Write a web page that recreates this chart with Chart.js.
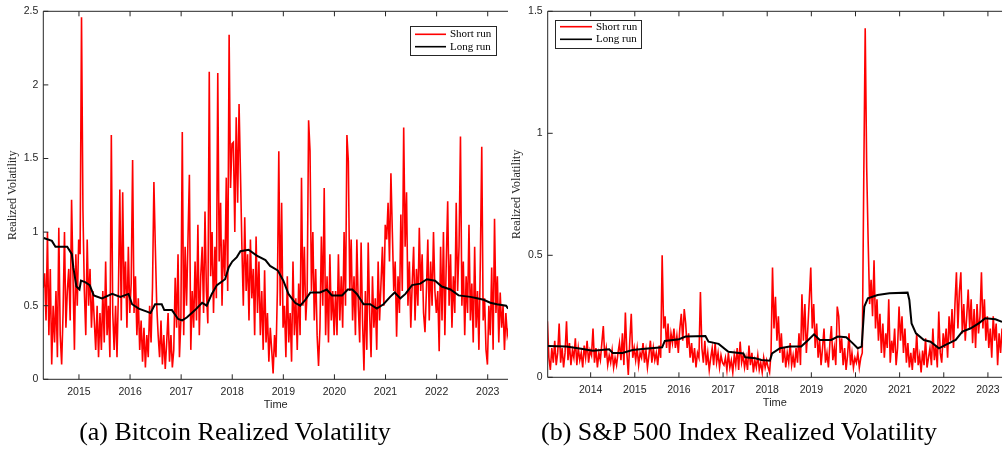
<!DOCTYPE html>
<html><head><meta charset="utf-8">
<script src="https://cdn.jsdelivr.net/npm/chart.js@4.4.0/dist/chart.umd.min.js"></script>
<style>
html,body{margin:0;padding:0;background:#fff;width:1006px;height:450px;overflow:hidden;}
#wrap{position:relative;width:1006px;height:450px;}
canvas{position:absolute;top:0;}
#c1{left:0;} #c2{left:500px;}
.cap{position:absolute;top:419px;font:26px/26px "Liberation Serif","Times New Roman",serif;color:#000;white-space:nowrap;transform:translateX(-50%);}
</style></head>
<body><div id="wrap">
<canvas id="c1" width="520" height="420"></canvas>
<canvas id="c2" width="506" height="420"></canvas>
<div class="cap" style="left:235px">(a) Bitcoin Realized Volatility</div>
<div class="cap" style="left:739px">(b) S&amp;P 500 Index Realized Volatility</div>
</div>
<script>
// ---------- Bitcoin data ----------
const btcStart = 2014.30, btcStep = 1/36;
const btc2014 = [0.62, 0.72, 0.4, 1.0, 0.3, 0.75, 0.1, 0.5, 0.25, 0.6, 0.15, 1.03, 0.3, 0.1, 0.45, 1.0, 0.35, 0.6, 0.75, 0.4, 1.22, 0.7, 0.2, 0.85, 0.5, 0.95];
const btc2015 = [0.85, 2.46, 1.15, 0.6, 0.3, 0.95, 0.5, 0.75, 0.35, 0.6, 0.4, 0.2, 0.5, 0.15, 0.45, 0.2, 0.6, 0.25, 0.8, 0.3, 0.5, 0.15, 1.66, 0.45, 0.2, 0.5, 0.15, 0.6, 1.29, 0.4, 1.27, 0.55, 0.8, 0.35, 0.9, 0.45];
const btc2016 = [0.65, 1.49, 0.45, 0.7, 0.3, 0.55, 0.2, 0.4, 0.12, 0.35, 0.08, 0.3, 0.15, 0.5, 0.25, 0.62, 1.34, 0.9, 0.5, 0.3, 0.15, 0.4, 0.1, 0.3, 0.07, 0.25, 0.45, 0.12, 0.3, 0.08, 0.2, 0.69, 0.35, 0.85, 0.15, 0.4];
const btc2017 = [1.68, 0.3, 0.9, 0.5, 0.95, 1.39, 0.2, 0.6, 0.35, 0.8, 0.4, 1.05, 0.3, 0.7, 0.9, 0.45, 1.14, 0.6, 0.38, 2.09, 0.7, 1.0, 0.45, 0.9, 0.55, 2.08, 0.8, 1.2, 0.5, 0.95, 0.7, 1.37, 0.6, 2.34, 1.3, 1.6];
const btc2018 = [1.61, 1.0, 1.78, 1.2, 1.87, 1.4, 0.9, 0.5, 1.1, 0.6, 0.85, 0.4, 0.95, 0.55, 0.75, 0.3, 0.97, 0.45, 0.8, 0.3, 0.6, 0.2, 0.74, 0.25, 0.45, 0.12, 0.35, 0.2, 0.04, 0.3, 0.15, 0.6, 1.55, 0.5, 1.2, 0.35];
const btc2019 = [0.5, 0.15, 0.7, 0.25, 0.45, 0.12, 0.8, 0.3, 0.55, 0.2, 0.65, 0.3, 1.37, 0.5, 0.9, 0.4, 0.6, 1.76, 1.55, 0.6, 1.0, 0.4, 0.75, 0.3, 0.09, 0.35, 0.97, 0.5, 1.3, 0.3, 0.7, 0.25, 0.85, 0.4, 0.6, 0.3];
const btc2020 = [0.6, 0.3, 0.85, 0.4, 0.7, 0.35, 1.0, 0.5, 1.66, 1.48, 0.6, 0.95, 0.4, 0.7, 0.3, 0.95, 0.5, 0.25, 0.93, 0.4, 0.06, 0.6, 0.2, 0.93, 0.45, 0.15, 0.7, 0.35, 0.55, 0.2, 0.8, 0.4, 0.65, 0.9, 0.5, 1.05];
const btc2021 = [0.95, 1.2, 0.8, 1.4, 1.0, 0.6, 0.8, 0.29, 0.7, 0.45, 1.12, 0.6, 1.71, 0.9, 1.27, 0.5, 0.8, 0.35, 0.65, 0.9, 0.4, 0.75, 0.5, 1.03, 0.6, 0.85, 0.45, 0.32, 0.6, 0.95, 0.4, 0.8, 0.5, 1.0, 0.6, 0.45];
const btc2022 = [0.6, 0.19, 0.9, 0.4, 1.0, 0.3, 0.8, 1.21, 0.5, 0.85, 0.35, 0.7, 0.45, 1.2, 0.6, 0.9, 1.65, 0.5, 0.8, 0.3, 0.7, 0.45, 1.05, 0.4, 0.65, 0.25, 0.9, 0.35, 0.6, 0.2, 0.8, 1.58, 0.4, 0.55, 0.2, 0.1];
const btc2023 = [0.5, 0.3, 0.76, 0.2, 1.09, 0.45, 0.7, 0.25, 0.59, 0.35, 0.5, 0.2, 0.45, 0.3, 0.35];
const btcShort = [].concat(btc2014, btc2015, btc2016, btc2017, btc2018, btc2019, btc2020, btc2021, btc2022, btc2023);
const btcLongX = [2014.31, 2014.47, 2014.54, 2014.77, 2014.86, 2014.89, 2014.95, 2015.01, 2015.04, 2015.12, 2015.21, 2015.29, 2015.45, 2015.65, 2015.81, 2015.97, 2016.04, 2016.17, 2016.33, 2016.40, 2016.49, 2016.62, 2016.67, 2016.82, 2016.94, 2017.02, 2017.11, 2017.24, 2017.30, 2017.41, 2017.50, 2017.60, 2017.70, 2017.86, 2017.93, 2018.00, 2018.09, 2018.16, 2018.32, 2018.48, 2018.65, 2018.74, 2018.89, 2019.00, 2019.10, 2019.23, 2019.33, 2019.43, 2019.53, 2019.72, 2019.85, 2019.95, 2020.15, 2020.26, 2020.35, 2020.44, 2020.57, 2020.70, 2020.83, 2020.96, 2021.09, 2021.18, 2021.29, 2021.39, 2021.52, 2021.68, 2021.81, 2021.97, 2022.10, 2022.27, 2022.43, 2022.66, 2022.79, 2022.92, 2023.05, 2023.18, 2023.36, 2023.40];
const btcLongY = [0.96, 0.94, 0.90, 0.90, 0.85, 0.76, 0.63, 0.61, 0.67, 0.66, 0.64, 0.57, 0.55, 0.58, 0.56, 0.58, 0.51, 0.48, 0.46, 0.45, 0.51, 0.51, 0.47, 0.47, 0.41, 0.40, 0.42, 0.46, 0.48, 0.52, 0.50, 0.58, 0.64, 0.68, 0.76, 0.80, 0.83, 0.87, 0.88, 0.84, 0.81, 0.77, 0.74, 0.67, 0.58, 0.52, 0.50, 0.54, 0.59, 0.59, 0.61, 0.57, 0.57, 0.61, 0.61, 0.58, 0.51, 0.51, 0.48, 0.51, 0.56, 0.59, 0.55, 0.58, 0.64, 0.65, 0.68, 0.67, 0.63, 0.61, 0.57, 0.56, 0.55, 0.54, 0.52, 0.51, 0.50, 0.48];
const btcYears = [2015, 2016, 2017, 2018, 2019, 2020, 2021, 2022, 2023];
const btcYTicks = [0, 0.5, 1, 1.5, 2, 2.5];

// ---------- S&P 500 data ----------
const spStart = 2013.02, spStep = 1/30;
const sp2013 = [0.23, 0.08, 0.03, 0.12, 0.06, 0.15, 0.05, 0.1, 0.22, 0.06, 0.12, 0.04, 0.1, 0.23, 0.07, 0.14, 0.05, 0.11, 0.08, 0.16, 0.05, 0.12, 0.07, 0.1, 0.04, 0.13, 0.08, 0.15, 0.06, 0.11];
const sp2014 = [0.09, 0.2, 0.06, 0.12, 0.04, 0.1, 0.07, 0.14, 0.21, 0.08, 0.12, 0.05, 0.09, 0.06, 0.11, 0.04, 0.08, 0.05, 0.1, 0.14, 0.07, 0.18, 0.05, 0.265, 0.1, 0.01, 0.15, 0.26, 0.08, 0.12];
const sp2015 = [0.07, 0.12, 0.05, 0.1, 0.08, 0.14, 0.06, 0.11, 0.04, 0.09, 0.15, 0.06, 0.12, 0.07, 0.1, 0.05, 0.13, 0.08, 0.5, 0.2, 0.25, 0.12, 0.22, 0.1, 0.18, 0.14, 0.2, 0.12, 0.17, 0.1];
const sp2016 = [0.2, 0.26, 0.15, 0.28, 0.22, 0.12, 0.18, 0.08, 0.14, 0.06, 0.12, 0.04, 0.1, 0.08, 0.35, 0.12, 0.06, 0.15, 0.05, 0.1, 0.03, 0.08, 0.12, 0.05, 0.14, 0.06, 0.1, 0.04, 0.09, 0.06];
const sp2017 = [0.05, 0.08, 0.03, 0.1, 0.04, 0.07, 0.02, 0.09, 0.05, 0.12, 0.03, 0.146, 0.06, 0.09, 0.04, 0.08, 0.03, 0.13, 0.05, 0.1, 0.02, 0.07, 0.04, 0.09, 0.03, 0.06, 0.02, 0.08, 0.04, 0.07];
const sp2018 = [0.04, 0.02, 0.1, 0.45, 0.2, 0.33, 0.15, 0.25, 0.1, 0.18, 0.06, 0.12, 0.04, 0.1, 0.06, 0.14, 0.05, 0.09, 0.04, 0.12, 0.06, 0.18, 0.05, 0.34, 0.15, 0.3, 0.1, 0.2, 0.32, 0.45];
const sp2019 = [0.2, 0.3, 0.12, 0.22, 0.08, 0.15, 0.05, 0.12, 0.2, 0.06, 0.1, 0.04, 0.14, 0.21, 0.07, 0.12, 0.05, 0.29, 0.25, 0.1, 0.16, 0.05, 0.12, 0.03, 0.09, 0.18, 0.05, 0.1, 0.04, 0.08];
const sp2020 = [0.06, 0.1, 0.04, 0.08, 0.1, 0.8, 1.43, 0.86, 0.56, 0.3, 0.4, 0.25, 0.48, 0.2, 0.32, 0.15, 0.26, 0.1, 0.22, 0.08, 0.18, 0.12, 0.32, 0.06, 0.15, 0.1, 0.2, 0.05, 0.12, 0.29];
const sp2021 = [0.15, 0.25, 0.1, 0.2, 0.06, 0.14, 0.04, 0.1, 0.03, 0.12, 0.06, 0.18, 0.05, 0.09, 0.02, 0.11, 0.05, 0.16, 0.04, 0.08, 0.12, 0.05, 0.2, 0.07, 0.13, 0.04, 0.27, 0.1, 0.06, 0.18];
const sp2022 = [0.12, 0.2, 0.08, 0.25, 0.15, 0.28, 0.12, 0.3, 0.43, 0.2, 0.35, 0.43, 0.18, 0.3, 0.15, 0.25, 0.36, 0.2, 0.32, 0.14, 0.28, 0.12, 0.3, 0.18, 0.25, 0.43, 0.2, 0.32, 0.15, 0.25];
const sp2023 = [0.12, 0.2, 0.08, 0.25, 0.15, 0.22, 0.05, 0.18, 0.1, 0.2];
const spShort = [].concat(sp2013, sp2014, sp2015, sp2016, sp2017, sp2018, sp2019, sp2020, sp2021, sp2022, sp2023);
const spLongX = [2013.03, 2013.45, 2013.82, 2014.05, 2014.42, 2014.50, 2014.72, 2014.95, 2015.17, 2015.62, 2015.68, 2016.00, 2016.15, 2016.60, 2016.67, 2016.90, 2017.12, 2017.46, 2017.50, 2017.73, 2017.87, 2018.06, 2018.11, 2018.29, 2018.51, 2018.77, 2018.93, 2019.06, 2019.19, 2019.45, 2019.60, 2019.79, 2019.94, 2020.05, 2020.14, 2020.20, 2020.28, 2020.50, 2020.77, 2021.18, 2021.22, 2021.27, 2021.37, 2021.55, 2021.70, 2021.89, 2022.04, 2022.27, 2022.42, 2022.60, 2022.79, 2022.94, 2023.17, 2023.32];
const spLongY = [0.128, 0.126, 0.116, 0.109, 0.115, 0.100, 0.100, 0.112, 0.116, 0.123, 0.149, 0.156, 0.167, 0.169, 0.146, 0.137, 0.105, 0.098, 0.082, 0.078, 0.071, 0.068, 0.098, 0.119, 0.126, 0.126, 0.153, 0.176, 0.153, 0.153, 0.167, 0.164, 0.139, 0.119, 0.126, 0.290, 0.324, 0.337, 0.344, 0.347, 0.317, 0.221, 0.180, 0.153, 0.146, 0.119, 0.133, 0.153, 0.187, 0.200, 0.221, 0.242, 0.238, 0.227];
const spYears = [2014, 2015, 2016, 2017, 2018, 2019, 2020, 2021, 2022, 2023];
const spYTicks = [0, 0.5, 1, 1.5];

const seriesLabels = ['Short run', 'Long run'];
const axisTitleX = 'Time';
const axisTitleY = 'Realized Volatility';

// ---------- drawing helpers ----------
const frame = {
  id: 'frame',
  afterDraw(chart, args, opts) {
    const {ctx, chartArea: ca, scales: {x, y}} = chart;
    ctx.save();
    ctx.strokeStyle = '#262626';
    ctx.lineWidth = 1;
    ctx.beginPath();
    ctx.moveTo(ca.left, ca.top); ctx.lineTo(ca.right, ca.top);
    ctx.moveTo(ca.left, ca.bottom); ctx.lineTo(ca.right, ca.bottom);
    ctx.moveTo(ca.left, ca.top); ctx.lineTo(ca.left, ca.bottom);
    x.ticks.forEach(t => {
      const px = x.getPixelForValue(t.value);
      ctx.moveTo(px, ca.bottom); ctx.lineTo(px, ca.bottom - 5);
      ctx.moveTo(px, ca.top); ctx.lineTo(px, ca.top + 5);
    });
    y.ticks.forEach(t => {
      const py = y.getPixelForValue(t.value);
      ctx.moveTo(ca.left, py); ctx.lineTo(ca.left + 5, py);
    });
    ctx.stroke();
    // legend
    const L = opts.legend;
    ctx.fillStyle = '#fff';
    ctx.fillRect(L.x, L.y, L.w, L.h);
    ctx.strokeStyle = '#262626';
    ctx.lineWidth = 1;
    ctx.strokeRect(L.x + 0.5, L.y + 0.5, L.w, L.h);
    ctx.font = '11px "Liberation Serif", "Times New Roman", serif';
    ctx.textBaseline = 'middle';
    ctx.textAlign = 'left';
    chart.data.datasets.forEach((ds, i) => {
      const yy = L.rows[i];
      ctx.strokeStyle = ds.borderColor;
      ctx.lineWidth = 1.6;
      ctx.beginPath(); ctx.moveTo(L.lx1, yy); ctx.lineTo(L.lx2, yy); ctx.stroke();
      ctx.fillStyle = '#000';
      ctx.fillText(ds.label, L.tx, yy);
    });
    ctx.restore();
  }
};

function build(id, short, start, step, longX, longY, years, yticks, xmin, xmax, ymax, geo) {
  const shortPts = short.map((v, i) => ({x: start + i * step, y: v}));
  const longPts = longX.map((xv, i) => ({x: xv, y: longY[i]}));
  const sans = '"Liberation Sans", Arial, Helvetica, sans-serif';
  return new Chart(document.getElementById(id), {
    type: 'line',
    data: {datasets: [
      {label: seriesLabels[0], data: shortPts, borderColor: '#ff0000', borderWidth: 1.6, pointRadius: 0, tension: 0, order: 1, fill: false},
      {label: seriesLabels[1], data: longPts, borderColor: '#000000', borderWidth: 2, pointRadius: 0, tension: 0, order: 0, fill: false}
    ]},
    options: {
      responsive: false, animation: false, events: [],
      layout: {padding: {top: geo.top, right: geo.right, left: 0, bottom: 0}},
      plugins: {legend: {display: false}, tooltip: {enabled: false}, frame: {legend: geo.legend}},
      scales: {
        x: {
          type: 'linear', min: xmin, max: xmax,
          grid: {display: false, drawTicks: false}, border: {display: false},
          afterBuildTicks: s => { s.ticks = years.map(v => ({value: v})); },
          afterFit: s => { s.height = geo.xh; },
          ticks: {autoSkip: false, maxRotation: 0, padding: geo.xtp, color: '#262626',
                  font: {family: sans, size: 10.5}, callback: v => String(v)},
          title: {display: true, text: axisTitleX, color: '#262626', font: {family: sans, size: 11},
                  padding: {top: 0, bottom: geo.xtitle}}
        },
        y: {
          type: 'linear', min: 0, max: ymax,
          grid: {display: false, drawTicks: false}, border: {display: false},
          afterBuildTicks: s => { s.ticks = yticks.map(v => ({value: v})); },
          afterFit: s => { s.width = geo.yw; },
          ticks: {padding: 5, color: '#262626', font: {family: sans, size: 10.5}, callback: v => String(v)},
          title: {display: true, text: axisTitleY, color: '#262626',
                  font: {family: '"Liberation Serif", "Times New Roman", serif', size: 12},
                  padding: {top: geo.ytitle, bottom: 0}}
        }
      }
    },
    plugins: [frame]
  });
}

build('c1', btcShort, btcStart, btcStep, btcLongX, btcLongY, btcYears, btcYTicks, 2014.302, 2023.397, 2.5, {
  top: 10, right: 12, yw: 43.3, xh: 40.7, xtp: 6.1, xtitle: 8.4, ytitle: 5.3,
  legend: {x: 410, y: 26, w: 86, h: 29, lx1: 415, lx2: 446, rows: [34.3, 46.7], tx: 450}
});
build('c2', spShort, spStart, spStep, spLongX, spLongY, spYears, spYTicks, 2013.027, 2023.32, 1.5, {
  top: 10.7, right: 0, yw: 47.7, xh: 42.7, xtp: 6.4, xtitle: 10.1, ytitle: 9.8,
  legend: {x: 55, y: 20, w: 86, h: 28, lx1: 60, lx2: 92, rows: [26.7, 39.3], tx: 96}
});
</script>
</body></html>
